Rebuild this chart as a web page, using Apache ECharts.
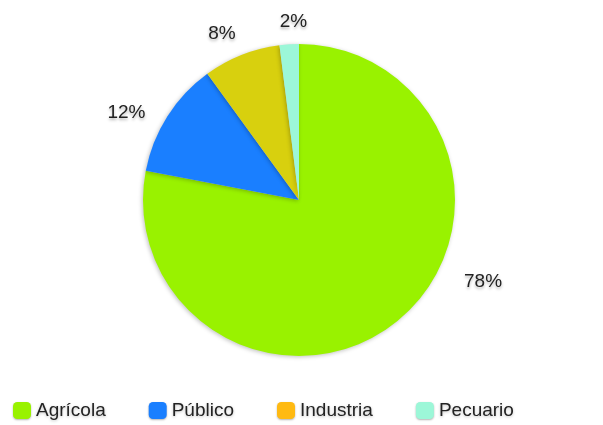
<!DOCTYPE html>
<html><head><meta charset="utf-8">
<script src="https://cdn.jsdelivr.net/npm/echarts@6/dist/echarts.min.js"></script>
<style>html,body{margin:0;padding:0;background:#fff}#c{width:603px;height:425px}</style>
</head><body><div id="c"></div>
<script>
const categories = ['Agrícola', 'Público', 'Industria', 'Pecuario'];
const values = [78, 12, 8, 2];
const sliceColors = ['#99F200', '#1A7FFF', '#D8D00E', '#9CF7D8'];
const legendColors = ['#99F200', '#1A7FFF', '#FFBA12', '#9CF7D8'];
// small label nudges (style only) to match the reference placement
const labelNudge = [[51, -50], [-9, 4], [20, -17], [24, -8]];

const chart = echarts.init(document.getElementById('c'), null, {renderer: 'canvas'});
chart.setOption({
  animation: false,
  textStyle: {fontFamily: 'Liberation Sans, Arial, sans-serif'},
  legend: {
    left: 8, top: 396,
    itemWidth: 18, itemHeight: 17, itemGap: 43,
    icon: 'roundRect',
    textStyle: {fontSize: 19, color: '#222', fontFamily: 'Liberation Sans', textShadowColor: 'rgba(0,0,0,0.25)', textShadowBlur: 3, textShadowOffsetY: 1},
    data: categories.map((n, i) => ({name: n, itemStyle: {color: legendColors[i], shadowColor: 'rgba(0,0,0,0.3)', shadowBlur: 2, shadowOffsetY: 1}}))
  },
  series: [{
    type: 'pie',
    center: [299, 200],
    radius: 156,
    startAngle: 90,
    clockwise: true,
    itemStyle: {shadowColor: 'rgba(0,0,0,0.25)', shadowBlur: 4, shadowOffsetX: -1, shadowOffsetY: 1},
    emphasis: {disabled: true},
    label: {
      show: true, position: 'outside', formatter: '{d}%',
      fontSize: 19, color: '#222', fontFamily: 'Liberation Sans',
      textShadowColor: 'rgba(0,0,0,0.3)', textShadowBlur: 3, textShadowOffsetY: 2
    },
    labelLine: {show: false, length: 15, length2: 0},
    labelLayout: function (p) {
      const n = labelNudge[p.dataIndex] || [0, 0];
      return {dx: n[0], dy: n[1]};
    },
    data: categories.map((n, i) => ({name: n, value: values[i], itemStyle: {color: sliceColors[i]}}))
  }]
});
</script></body></html>
